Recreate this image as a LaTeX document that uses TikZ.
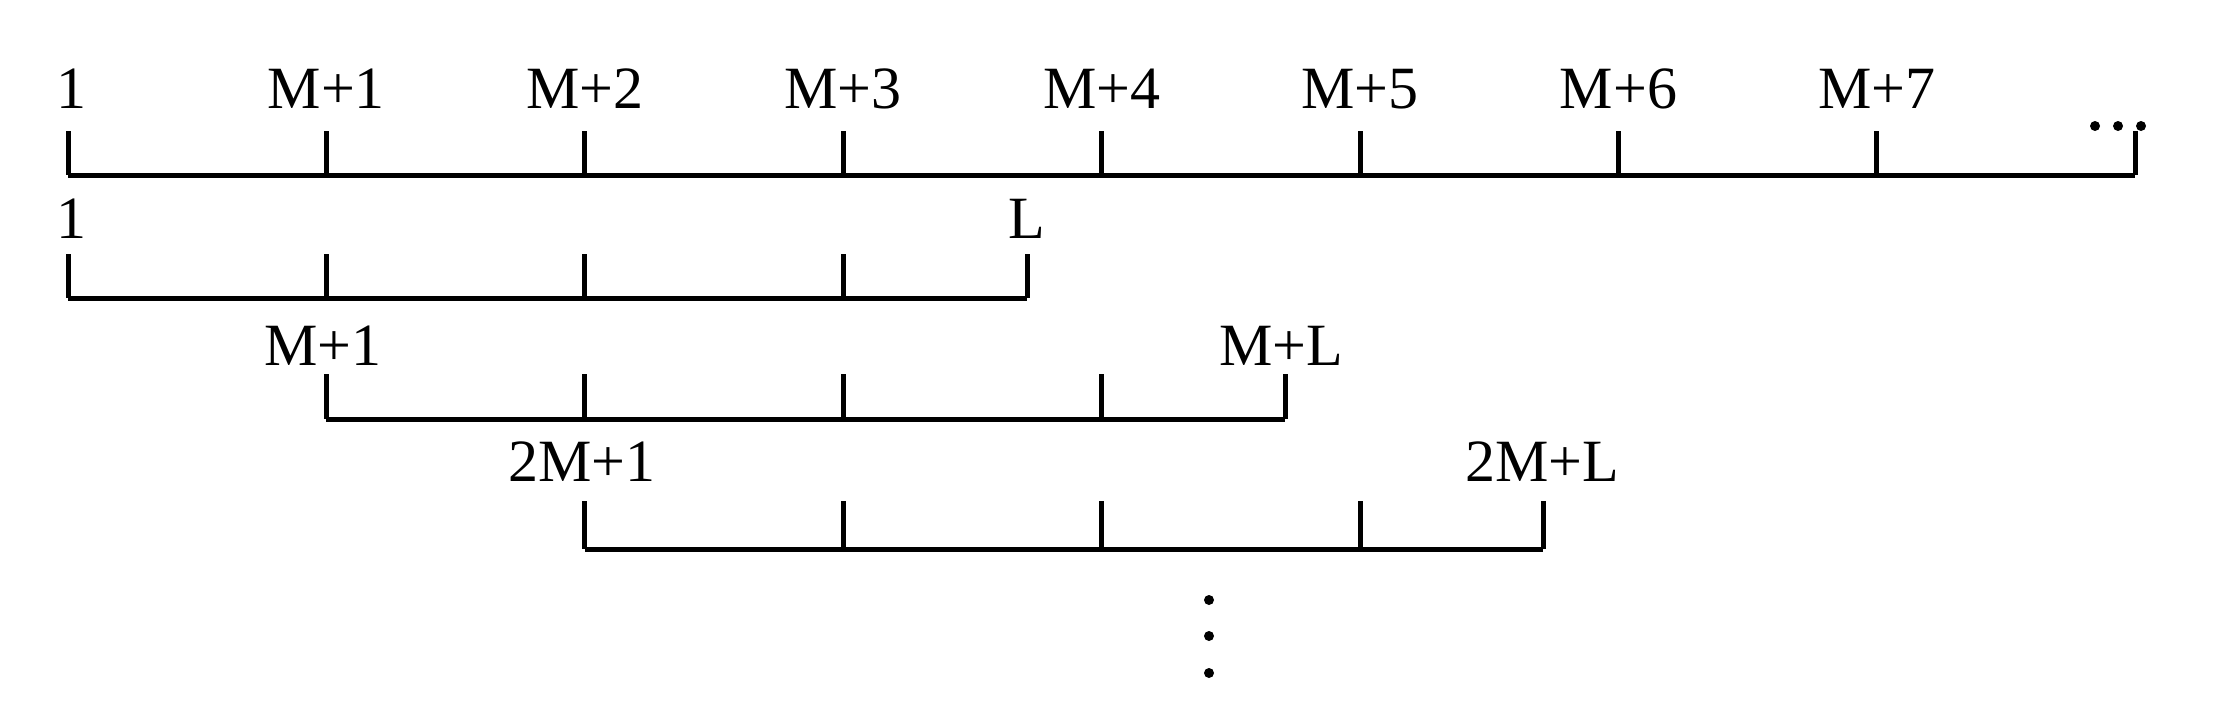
\documentclass[tikz,border=0pt]{standalone}
\usepackage{fontspec}
\setmainfont{Liberation Serif}
\begin{document}
\begin{tikzpicture}[x=1pt,y=-1pt,
  bar/.style={line width=5pt},
  lab/.style={font=\fontsize{60}{60}\selectfont,inner sep=0pt},
  dot/.style={fill=black,circle,inner sep=0pt,minimum size=10pt}]
\useasboundingbox (0,0) rectangle (2214,725);
% row 1
\def\xs{68}\def\dx{258.4}
\foreach \i in {0,...,8} {\coordinate (t\i) at ({\xs+\i*\dx},175); \draw[bar] ({\xs+\i*\dx},131) -- ({\xs+\i*\dx},175);}
\draw[bar] (t0) -- (t8);
\node[lab] (a0) at (71,89) {1};
\foreach \i in {1,...,7} {\node[lab] (a\i) at ({\xs+\i*\dx},89) {M+\i};}
\node[dot] (h1) at (2095,126) {};
\node[dot] (h2) at (2118,126) {};
\node[dot] (h3) at (2141,126) {};
% row 2
\foreach \x in {68,326.4,584.8,843.2,1027} {\draw[bar] (\x,254) -- (\x,298);}
\coordinate (r2a) at (68,298); \coordinate (r2b) at (1027,298);
\draw[bar] (r2a) -- (r2b);
\node[lab] (b1) at (71,219) {1};
\node[lab] (b2) at (1027,219) {L};
% row 3
\foreach \x in {326.4,584.8,843.2,1101.6,1285} {\draw[bar] (\x,374) -- (\x,419);}
\coordinate (r3a) at (326.4,419); \coordinate (r3b) at (1285,419);
\draw[bar] (r3a) -- (r3b);
\node[lab] (c1) at (323,346) {M+1};
\node[lab] (c2) at (1281,346) {M+L};
% row 4
\foreach \x in {584.8,843.2,1101.6,1360,1543} {\draw[bar] (\x,501) -- (\x,549);}
\coordinate (r4a) at (584.8,549); \coordinate (r4b) at (1543,549);
\draw[bar] (r4a) -- (r4b);
\node[lab] (d1) at (582,462) {2M+1};
\node[lab] (d2) at (1542,462) {2M+L};
% vertical dots
\node[dot] (v1) at (1209,600) {};
\node[dot] (v2) at (1209,636) {};
\node[dot] (v3) at (1209,673) {};
\end{tikzpicture}
\end{document}
